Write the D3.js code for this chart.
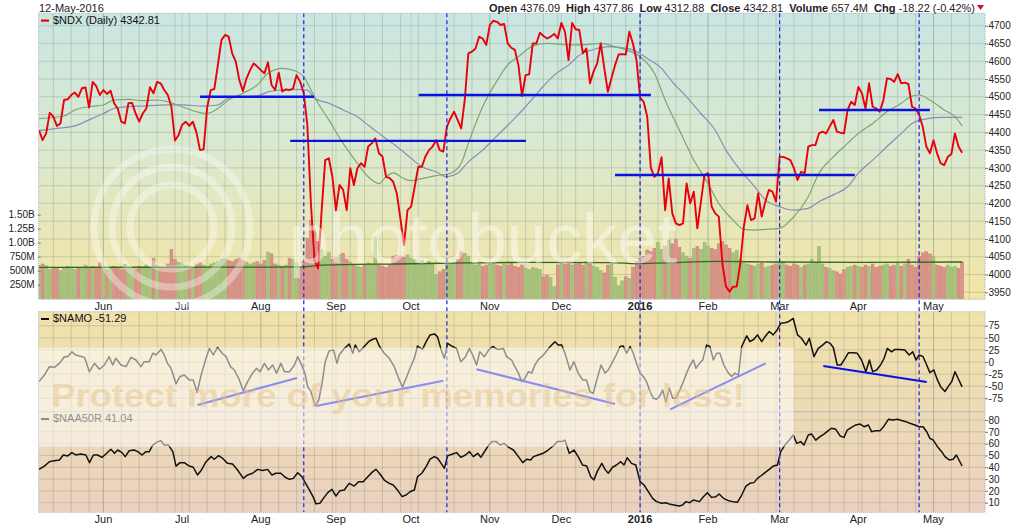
<!DOCTYPE html>
<html><head><meta charset="utf-8">
<script src="https://cdn.jsdelivr.net/npm/d3@7"></script>
<style>
body{margin:0;background:#fff}
svg{display:block}
text{font-family:"Liberation Sans",Arial,sans-serif}
</style></head>
<body><svg id="c" width="1024" height="529"></svg>
<script>
// ---------- DATA ----------
const startDate = "2015-05-05";
const calendarEnd = "2016-05-24";
const holidays = ["2015-05-25","2015-07-03","2015-09-07","2015-11-26","2015-12-25","2016-01-01","2016-01-18","2016-02-15","2016-03-25"];

const closes = [
4406,4378,4397,4455,4444,4418,4425,4491,4493,4505,
4512,4500,4524,4526,4470,4542,4530,4505,4519,4508,
4517,4482,4467,4430,4425,4482,4483,4453,4430,4453,
4467,4527,4510,4542,4538,4519,4505,4472,4377,4392,
4421,4430,4418,4430,4400,4350,4352,4470,4519,4522,
4590,4660,4674,4669,4622,4599,4547,4516,4552,4575,
4594,4585,4575,4566,4597,4533,4519,4568,4515,4521,
4519,4523,4561,4542,4510,4420,4200,4040,4017,4181,
4322,4327,4275,4181,4252,4238,4181,4299,4252,4299,
4313,4303,4360,4369,4383,4341,4332,4275,4271,4261,
4228,4158,4083,4181,4191,4247,4303,4303,4332,4350,
4360,4378,4350,4346,4416,4439,4458,4435,4411,4491,
4622,4627,4636,4669,4664,4646,4702,4714,4711,4702,
4705,4650,4638,4632,4589,4502,4561,4563,4650,4650,
4680,4671,4664,4669,4677,4664,4708,4683,4603,4708,
4690,4688,4622,4636,4538,4571,4594,4650,4580,4514,
4552,4589,4619,4620,4619,4683,4650,4603,4498,4486,
4444,4300,4275,4285,4330,4181,4270,4172,4144,4139,
4144,4256,4200,4233,4130,4205,4280,4285,4191,4172,
4163,4031,3966,3952,3966,3966,4031,4135,4195,4153,
4158,4228,4163,4205,4238,4233,4205,4331,4331,4327,
4322,4299,4266,4289,4285,4360,4364,4364,4397,4402,
4397,4416,4435,4402,4399,4397,4463,4486,4477,4528,
4510,4467,4538,4472,4467,4458,4491,4552,4550,4542,
4564,4538,4540,4536,4472,4467,4449,4416,4360,4341,
4378,4341,4313,4308,4331,4339,4397,4360,4342.81];

// volume in millions
const volumes = [
600,620,590,520,540,560,500,540,580,560,
520,560,540,600,540,580,560,640,550,520,
560,580,540,520,610,560,540,520,580,560,
600,560,720,600,560,540,620,880,700,650,
620,600,580,560,620,640,600,580,620,640,
660,700,720,680,660,700,720,680,650,620,
640,660,620,680,830,800,620,600,580,600,
720,700,640,560,660,1080,1400,1230,1020,870,
760,820,700,740,780,810,700,650,620,580,
560,600,640,620,1100,600,580,560,620,760,
780,760,740,780,720,700,650,680,640,660,
620,420,480,520,660,640,620,700,840,810,
760,640,600,620,580,600,620,640,600,580,
620,600,640,580,560,600,540,520,560,540,
520,390,420,380,215,600,640,620,660,600,
620,640,600,660,620,580,560,500,460,600,
620,380,230,320,390,360,560,660,720,750,
870,840,900,1000,880,940,1050,980,1060,920,
820,760,720,900,930,880,1000,940,900,880,
980,1020,960,900,820,860,700,640,620,600,
580,620,640,560,580,600,620,660,640,600,
580,620,600,560,600,620,700,640,930,620,
560,540,500,480,440,520,560,580,600,580,
560,600,580,620,560,580,600,620,580,600,
640,580,620,700,600,560,760,820,840,800,
760,600,580,560,600,560,580,540,657.4];

// moving averages read as [day index, value]
const maFast = [[0,4439],[7,4446],[10,4463],[14,4472],[18,4477],[21,4491],[25,4493],[29,4489],[33,4491],[36,4486],[40,4472],[44,4458],[47,4453],[50,4467],[53,4491],[57,4510],[61,4533],[64,4566],[68,4580],[71,4575],[74,4556],[76,4519],[78,4482],[81,4435],[85,4369],[89,4313],[92,4275],[95,4256],[97,4275],[99,4286],[102,4270],[104,4264],[107,4270],[111,4278],[115,4285],[118,4313],[120,4369],[124,4472],[128,4545],[131,4590],[134,4613],[138,4643],[142,4650],[148,4646],[152,4646],[157,4650],[161,4641],[164,4632],[168,4613],[172,4566],[175,4491],[179,4406],[183,4322],[187,4256],[190,4200],[194,4153],[197,4127],[200,4125],[203,4127],[207,4130],[211,4163],[215,4219],[218,4285],[222,4331],[226,4369],[229,4397],[233,4425],[237,4458],[241,4482],[244,4502],[246,4505],[249,4491],[253,4463],[256,4444],[258,4418]];
const maSlow = [[0,4405],[5,4411],[10,4418],[14,4435],[18,4453],[21,4467],[25,4472],[29,4474],[36,4477],[40,4477],[46,4474],[50,4477],[53,4496],[57,4500],[61,4502],[64,4514],[68,4519],[72,4521],[75,4519],[77,4496],[81,4482],[85,4463],[89,4444],[92,4420],[96,4390],[100,4360],[104,4327],[107,4303],[111,4289],[114,4275],[117,4285],[120,4317],[124,4350],[128,4390],[133,4440],[136,4472],[140,4519],[144,4561],[148,4589],[151,4617],[155,4633],[159,4641],[162,4639],[166,4632],[170,4608],[174,4580],[177,4542],[181,4500],[185,4453],[189,4406],[192,4350],[196,4294],[200,4247],[203,4210],[207,4191],[211,4181],[215,4186],[218,4205],[222,4224],[226,4247],[229,4285],[233,4322],[237,4360],[241,4397],[244,4425],[247,4436],[252,4442],[258,4442]];
const volAvg = [[0,560],[30,562],[60,565],[74,568],[78,595],[85,610],[100,620],[120,640],[135,648],[160,645],[167,625],[175,640],[190,665],[205,655],[230,650],[258,655]];

const namo = [[0,-40.6],[1.5,-27],[2.9,-9.6],[4.3,-11],[5.7,-2.8],[7.1,11],[8,11],[9.2,21],[10.2,14.5],[11.3,12.4],[12.7,9.6],[14.1,-20],[15.5,-2.8],[16.9,-15],[18.3,-6.2],[19.6,11],[20.6,-6.2],[21.5,7.6],[22.9,-6.2],[24.3,-9.6],[25.7,9.6],[27.1,4.1],[28.5,-9.6],[29.4,0.7],[30.8,0.7],[31.8,18],[32.7,14.5],[34.1,26],[35,14.5],[35.9,-2.8],[36.9,-13],[38.3,-45],[39.4,-30],[40.6,-27],[42,-37],[43.1,-37],[44.2,-63],[45.3,-27],[46.7,7.6],[47.6,28],[48.7,14.5],[49.9,30],[51.2,18],[52.3,11],[53.5,-9.6],[54.6,-16.5],[56,-37],[57.1,-60],[58.3,-40.6],[59.7,-23],[60.8,-13],[61.8,-20],[63,-2.8],[64.1,-16.5],[65.3,-6.2],[66.4,-23],[67.6,-2.8],[68.6,-20],[70,-20],[71.4,-6.2],[72.3,11],[73.2,-2.8],[74.2,-20],[75.1,-51],[76,-61],[77.2,-91],[78.2,-78.5],[79.1,-44],[80,0.7],[81.1,23],[82.3,25],[83.3,-2.8],[83.9,14.5],[85.3,28],[86.7,37],[87.7,18],[88.4,35],[89.5,21],[90.9,32],[92.1,42],[93.3,47],[94.2,49],[95.1,33],[96.5,18],[97.9,7.6],[99.3,-9.6],[100.7,-37],[101.6,-52],[102.8,-30],[103.7,-13],[104.9,7.6],[105.8,33],[107.2,26],[108.2,42],[109.3,56],[110.5,58],[111.4,52],[112.4,25],[113.3,7.6],[114.2,38.6],[115.6,32],[116.7,28],[117.9,0.7],[119.2,11],[120.3,28],[121.2,14.5],[122.3,-6.2],[123.2,21],[124.5,11],[125.7,25],[126.8,32],[128.2,26],[129.8,28],[130.7,11],[132.1,4.1],[133,-9.6],[134,-23],[134.9,-40.6],[135.8,-34],[136.8,-20],[137.7,-23],[138.6,-6.2],[139.6,5.5],[140.5,11],[141.4,18],[142.4,28],[143.3,35],[144.2,42],[145.1,35],[146.1,35],[147,18],[148.4,-16.5],[149.5,0.7],[150.7,-23],[151.9,-37],[153,-37],[154,-61],[154.9,-65],[155.9,-37],[157.1,-6.2],[158.2,-23],[159.1,-16.5],[160.1,-2.8],[161.3,14.5],[162.4,32],[163.3,33],[164.2,18],[165.2,32],[166.1,18],[167,-2.8],[168,-23],[168.9,-30],[169.8,-40.6],[170.8,-61],[171.7,-75],[172.6,-77],[173.4,-71.6],[174.3,-58],[175.2,-82],[176.2,-54],[177.1,-75],[178,-75],[179.1,-58],[180.1,-40.6],[181,-23],[182,-6.2],[182.9,4.1],[183.6,-13],[184.6,-2.8],[185.5,4.1],[186.6,35],[187.5,32],[188.5,4.1],[189.4,18],[190.3,18],[191.4,-6.2],[192.7,-23],[193.6,-30],[194.5,-23],[195.5,-27],[196.4,32],[197.8,54],[198.7,42],[199.8,47],[200.8,56],[202,42],[202.9,52],[204.1,63],[205.2,56],[206.3,66],[207.3,80],[208.5,81],[209.4,83],[210.8,90],[212,56],[213.1,49],[214.4,35],[215.3,49],[216.6,11],[217.8,28],[219,35],[220.1,42],[221.1,38.6],[222,30],[223.1,-6.2],[224.1,-6.2],[225.3,7.6],[226.2,19],[227.6,19],[228.7,18],[229.9,4.1],[231.1,-20],[232.1,4.1],[233,-20],[234.1,-16.5],[235.2,-6.2],[236.2,7.6],[237.1,28],[238.3,21],[239.2,26],[240.6,26],[242,25],[243.2,14.5],[244.2,21],[245.1,4.1],[246,14.5],[247.1,11],[248.1,-6.2],[249,-22],[250.1,-16.5],[251.1,-37],[252,-51],[253.2,-61],[254.1,-51],[255.1,-40.6],[256,-20],[256.9,-34],[258,-51.29]];

const naa50r = [[0,38.2],[1.5,41],[2.9,44.7],[4.3,45.6],[5.7,46.2],[6.8,50.4],[8,49.6],[9.2,52.4],[10.3,50.4],[11.7,51.2],[13.1,50.4],[14.1,43.9],[15.2,50.4],[16.4,50.4],[17.6,48.4],[18.7,51.2],[20.1,55.2],[21.1,51.8],[22,54.6],[23.2,52.4],[24.1,49],[25.2,54],[26.6,54.6],[27.6,53.2],[28.8,50.4],[29.9,53.2],[30.8,53.2],[31.8,58.8],[33.2,61.7],[34.1,62.5],[35,58.8],[36.2,58.8],[37.4,53.2],[38.3,41],[39.4,43.9],[40.6,43.9],[42,41],[43.1,40],[44.3,33.5],[45.3,37.2],[46.7,44.7],[48.1,49],[49,46.8],[50.2,49.8],[51.3,47.6],[52.7,43.3],[54.1,42.7],[55.5,37.7],[57.1,30.6],[58.3,33.5],[59.7,34.9],[61.1,38.2],[62.5,37.2],[63.9,38.2],[65.1,33.5],[66.2,34.9],[67.6,34.9],[68.8,31.5],[70,29.8],[71.1,30.6],[72.3,35.4],[73.5,32],[74.4,26.9],[75.6,20.7],[76.7,14.5],[77.4,9],[78.5,9.5],[79.5,13.7],[80.7,18.5],[81.9,21.3],[83,15.6],[84.1,20.2],[85.3,20.7],[86.7,26.4],[88.1,24.1],[89.3,27.8],[90.6,27.8],[91.9,32],[93.3,36.3],[94.2,38.2],[95.3,34.3],[96.5,29.2],[97.9,26.4],[99,25],[100.2,20.7],[101.5,15.1],[102.6,16.5],[103.7,19.3],[104.9,20.7],[105.8,32],[107,34.9],[108.2,40.5],[109.3,46.8],[110.5,49],[111.4,47.6],[112.4,43.3],[113.3,39.1],[114.2,49.6],[115.6,51.2],[116.7,52.4],[117.9,48.4],[119.2,50.4],[120.3,53.2],[121.4,49],[122.6,51.8],[123.5,48.4],[124.8,54.6],[125.7,58.8],[126.6,61.7],[127.8,61.7],[128.9,58.8],[130,60.2],[131.3,56.8],[132.6,54.6],[134,49],[135.2,43.9],[136.3,46.8],[137.4,46.2],[138.2,49],[139.5,50.4],[140.9,51.8],[142.3,54.6],[143.7,58],[144.9,61.7],[146.1,61.7],[147,63],[148.2,51.8],[149.5,54.6],[150.7,49],[151.9,41.9],[153.1,41],[154.2,32],[155.1,29.2],[156,36.3],[157.3,43.3],[158.2,38.2],[159.1,34.9],[160.3,40],[161.4,41.9],[162.6,44.7],[163.5,41.9],[164.4,48.1],[165.6,43.3],[166.8,41.9],[168,27.8],[169.1,25],[170.3,19.3],[171.5,13.7],[172.6,10.9],[174,9.5],[175.2,10],[176.4,8.6],[177.5,8],[178.9,7.2],[179.9,8],[180.8,10.9],[181.9,10],[182.9,12.3],[184.6,10.9],[185.7,15.1],[186.8,18.5],[188,14.5],[189.2,15.1],[190.1,17.4],[191.3,13.7],[192.7,11.7],[193.9,10.9],[195.2,10.3],[196.4,16.5],[197.6,24.1],[198.7,26.4],[199.8,27],[200.8,30.6],[201.7,32.6],[202.9,35.4],[204.1,38.2],[205.2,41],[206.4,41.9],[207.3,53.2],[208.5,58.8],[209.7,63],[210.8,67.3],[211.8,60.2],[212.9,61.7],[213.8,58.8],[215,67.3],[215.9,68.1],[217.1,63],[218.3,65.9],[219.4,68.1],[220.6,71],[221.5,73],[222.7,72.1],[223.9,66.5],[225,65.3],[225.9,71.5],[227.1,73.8],[228.3,75.8],[229.5,76.6],[230.6,74.3],[231.8,75.8],[232.7,70.1],[233.9,71],[235.1,71],[236.2,75],[237.4,80.6],[238.6,80],[239.9,80.6],[241.1,79.5],[242.3,78.6],[243.4,77.2],[244.8,75.8],[246,74.3],[247.1,74.3],[248.1,70.1],[249,64.5],[249.9,63.1],[251.1,57.4],[252.3,53.2],[253.2,49],[254.4,46.2],[255.5,46.8],[256.4,50.4],[258,41.04]];

// annotations: [startIndex, endIndex, price]
const priceTrend = [[45,76.9,4500],[70.2,136.1,4376],[106.1,171,4505],[161,228,4280],[218,249,4463]];
// [i0, v0, i1, v1]
const namoTrend = [[44.3,-88.8,72.1,-33],[77.4,-91,113,-38.6],[122.3,-15,161,-86.8],[176.4,-97.8,203.1,-2.7],[219.2,-8.3,248.1,-41.3]];
const markerDates = ["2015-08-19","2015-10-15","2016-01-04","2016-03-01","2016-04-26"];

const priceTicks = [3950,4000,4050,4100,4150,4200,4250,4300,4350,4400,4450,4500,4550,4600,4650,4700];
const volTicks = [250,500,750,1000,1250,1500];
const volTickLabels = ["250M","500M","750M","1.00B","1.25B","1.50B"];
const namoTicks = [-75,-50,-25,0,25,50,75];
const naaTicks = [10,20,30,40,50,60,70,80];
const monthNames = ["Jan","Feb","Mar","Apr","May","Jun","Jul","Aug","Sep","Oct","Nov","Dec"];

// ---------- TRADING CALENDAR ----------
function iso(d){return d.toISOString().slice(0,10);}
const days = [];
for (let d = new Date(startDate+"T00:00:00Z"); iso(d) <= calendarEnd; d = new Date(d.getTime()+86400000)) {
  const wd = d.getUTCDay();
  if (wd===0 || wd===6 || holidays.includes(iso(d))) continue;
  days.push(new Date(d));
}
const idxOf = s => days.findIndex(d => iso(d) === s);

// ---------- LAYOUT ----------
const svg = d3.select("#c");
const L = 38.7, R = 985;
const P1 = {t:13.3, b:299.3}, P2 = {t:311.7, b:411.7}, P3 = {t:411.7, b:512.3};

const x = d3.scaleLinear().domain([0,264.4]).range([39,985]);
const yP = d3.scaleLinear().domain([3950,4700]).range([292.3,25.7]);
const yV = d3.scaleLinear().domain([0,1500]).range([298.7,214.7]);
const yN = d3.scaleLinear().domain([-75,75]).range([398.3,325.7]);
const yA = d3.scaleLinear().domain([10,80]).range([502.7,420]);

const defs = svg.append("defs");
const grad = defs.append("linearGradient").attr("id","bg").attr("gradientUnits","userSpaceOnUse")
  .attr("x1",0).attr("y1",13).attr("x2",0).attr("y2",512);
[[0,"#c9e6e2"],[0.28,"#dbe9cf"],[0.56,"#f2e5a6"],[0.6,"#f1e2aa"],[0.8,"#eedab6"],[1,"#ebd1bf"]]
  .forEach(([o,c]) => grad.append("stop").attr("offset",o).attr("stop-color",c));

[P1,P2,P3].forEach(p => {
  svg.append("rect").attr("x",L).attr("y",p.t).attr("width",R-L).attr("height",p.b-p.t).attr("fill","url(#bg)");
});

// clip per panel
[P1,P2,P3].forEach((p,k) => {
  defs.append("clipPath").attr("id","clip"+k).append("rect").attr("x",L).attr("y",p.t).attr("width",R-L).attr("height",p.b-p.t);
});

// vertical week gridlines
const gridColor = "rgba(110,130,110,0.28)";
const weekStarts = [], monthStarts = [];
days.forEach((d,i) => {
  if (i===0) return;
  if (x(i) > R) return;
  if (d.getUTCDay() < days[i-1].getUTCDay() || (d - days[i-1]) > 3*86400000) weekStarts.push(i);
  if (d.getUTCMonth() !== days[i-1].getUTCMonth()) monthStarts.push(i);
});
[P1,P2,P3].forEach(p => {
  svg.append("g").selectAll("line").data(weekStarts).join("line")
    .attr("x1",i=>x(i)).attr("x2",i=>x(i)).attr("y1",p.t).attr("y2",p.b)
    .attr("stroke",gridColor).attr("stroke-width",1);
  svg.append("g").selectAll("line").data(monthStarts).join("line")
    .attr("x1",i=>x(i)).attr("x2",i=>x(i)).attr("y1",p.t).attr("y2",p.b)
    .attr("stroke","rgba(110,130,110,0.22)").attr("stroke-width",1);
});
// horizontal gridlines
function hgrid(ticks, y){
  svg.append("g").selectAll("line").data(ticks).join("line")
    .attr("x1",L).attr("x2",R).attr("y1",d=>y(d)).attr("y2",d=>y(d))
    .attr("stroke",gridColor).attr("stroke-width",1);
}
hgrid(priceTicks, yP); hgrid(namoTicks, yN); hgrid(naaTicks, yA);

// ---------- TOP PANEL ----------
const g1 = svg.append("g").attr("clip-path","url(#clip0)");
// volume bars
g1.append("g").selectAll("rect").data(volumes).join("rect")
  .attr("x",(d,i)=>x(i)-1.4).attr("width",2.8)
  .attr("y",d=>yV(d)).attr("height",d=>yV(0)-yV(d))
  .attr("fill",(d,i)=> (i>0 && closes[i] < closes[i-1]) ? "#d9938b" : "#a7c47e")
  .attr("stroke",(d,i)=> (i>0 && closes[i] < closes[i-1]) ? "#c57a72" : "#8fae66")
  .attr("stroke-width",0.5);
const lineXY = (yy) => d3.line().x(d=>x(d[0])).y(d=>yy(d[1]));
g1.append("path").datum(volAvg).attr("d",lineXY(yV).curve(d3.curveMonotoneX))
  .attr("fill","none").attr("stroke","#2d6b1f").attr("stroke-width",1.3);
g1.append("path").datum(maSlow).attr("d",lineXY(yP).curve(d3.curveMonotoneX))
  .attr("fill","none").attr("stroke","#8a8cb8").attr("stroke-width",1.2);
g1.append("path").datum(maFast).attr("d",lineXY(yP).curve(d3.curveMonotoneX))
  .attr("fill","none").attr("stroke","#79a86c").attr("stroke-width",1.2);
g1.append("path").datum(closes).attr("d",d3.line().x((d,i)=>x(i)).y(d=>yP(d)))
  .attr("fill","none").attr("stroke","#e8000a").attr("stroke-width",1.9).attr("stroke-linejoin","round");
g1.append("g").selectAll("line").data(priceTrend).join("line")
  .attr("x1",d=>x(d[0])).attr("x2",d=>x(d[1])).attr("y1",d=>yP(d[2])).attr("y2",d=>yP(d[2]))
  .attr("stroke","#0a12e0").attr("stroke-width",2.4);

// ---------- NAMO / NAA50R ----------
const g2 = svg.append("g").attr("clip-path","url(#clip1)");
g2.append("path").datum(namo).attr("d",lineXY(yN))
  .attr("fill","none").attr("stroke","#111").attr("stroke-width",1.5).attr("stroke-linejoin","round");
g2.append("g").selectAll("line").data(namoTrend).join("line")
  .attr("x1",d=>x(d[0])).attr("y1",d=>yN(d[1])).attr("x2",d=>x(d[2])).attr("y2",d=>yN(d[3]))
  .attr("stroke","#0a12e0").attr("stroke-width",2);
const g3 = svg.append("g").attr("clip-path","url(#clip2)");
g3.append("path").datum(naa50r).attr("d",lineXY(yA))
  .attr("fill","none").attr("stroke","#111").attr("stroke-width",1.5).attr("stroke-linejoin","round");

// legends
svg.append("rect").attr("x",41).attr("y",19.5).attr("width",8).attr("height",2.2).attr("fill","#e8000a");
svg.append("text").attr("x",53).attr("y",23.5).attr("font-size",11).attr("fill","#111").text("$NDX (Daily) 4342.81");
svg.append("rect").attr("x",41).attr("y",318).attr("width",8).attr("height",2).attr("fill","#111");
svg.append("text").attr("x",53).attr("y",322).attr("font-size",11).attr("fill","#111").text("$NAMO -51.29");
svg.append("rect").attr("x",41).attr("y",418).attr("width",8).attr("height",2).attr("fill","#111");
svg.append("text").attr("x",53).attr("y",422).attr("font-size",11).attr("fill","#111").text("$NAA50R 41.04");

// event marker lines
const markerIdx = markerDates.map(idxOf);
svg.append("g").selectAll("line").data(markerIdx).join("line")
  .attr("x1",i=>x(i)).attr("x2",i=>x(i)).attr("y1",P1.t).attr("y2",P3.b)
  .attr("stroke","#1a22e6").attr("stroke-width",1.2).attr("stroke-dasharray","4,3");

// panel borders
[P1,P2,P3].forEach(p => {
  svg.append("rect").attr("x",L).attr("y",p.t).attr("width",R-L).attr("height",p.b-p.t)
    .attr("fill","none").attr("stroke","#9fb3c0").attr("stroke-width",1).attr("stroke-dasharray","1,1");
});

// ---------- AXES ----------
function rightAxis(scale, ticks, fmt){
  const ax = d3.axisRight(scale).tickValues(ticks).tickSize(3).tickFormat(fmt);
  const g = svg.append("g").attr("transform",`translate(${R},0)`).call(ax);
  g.select(".domain").remove();
  g.selectAll("line").attr("stroke","#777");
  g.selectAll("text").attr("font-size",10).attr("fill","#222").attr("x",3.5).attr("font-family","Liberation Sans, Arial, sans-serif");
}
rightAxis(yP, priceTicks, d=>d);
rightAxis(yN, namoTicks, d=>d);
rightAxis(yA, naaTicks, d=>d);
{
  const ax = d3.axisLeft(yV).tickValues(volTicks).tickSize(3).tickFormat((d,i)=>volTickLabels[i]);
  const g = svg.append("g").attr("transform",`translate(${L+2},0)`).call(ax);
  g.select(".domain").remove();
  g.selectAll("line").attr("stroke","#777");
  g.selectAll("text").attr("font-size",10).attr("fill","#222").attr("font-family","Liberation Sans, Arial, sans-serif");
}
// month labels
const monthLabelIdx = monthStarts.filter(i => x(i) < R - 10);
function monthLabels(yBase){
  svg.append("g").selectAll("text").data(monthLabelIdx).join("text")
    .attr("x",i=>x(i)).attr("y",yBase).attr("text-anchor","middle").attr("font-size",11)
    .attr("font-weight",i=>days[i].getUTCMonth()===0?"bold":"normal").attr("fill","#222")
    .text(i=>days[i].getUTCMonth()===0 ? String(days[i].getUTCFullYear()) : monthNames[days[i].getUTCMonth()]);
}
monthLabels(309.5);
monthLabels(522.5);

// header
svg.append("text").attr("x",39).attr("y",11.5).attr("font-size",11).attr("fill","#222").text("12-May-2016");
const hdr = svg.append("text").attr("x",975).attr("y",12).attr("text-anchor","end").attr("font-size",11).attr("fill","#222");
[["Open ",true],["4376.09  ",false],["High ",true],["4377.86  ",false],["Low ",true],["4312.88  ",false],["Close ",true],["4342.81  ",false],["Volume ",true],["657.4M  ",false],["Chg ",true],["-18.22 (-0.42%)",false]]
  .forEach(([t,b]) => hdr.append("tspan").attr("font-weight",b?"bold":"normal").attr("xml:space","preserve").text(t));
svg.append("path").attr("d","M977,5 L984,5 L980.5,10 Z").attr("fill","#c8102e");

// ---------- WATERMARK ----------
const wm = svg.append("g").attr("pointer-events","none");
[78,60,42].forEach(r => wm.append("circle").attr("cx",172).attr("cy",227).attr("r",r)
  .attr("fill","none").attr("stroke","#fff").attr("stroke-width",7).attr("opacity",0.35));
wm.append("text").attr("x",289).attr("y",263).attr("font-size",70).attr("font-family","Open Sans, sans-serif")
  .attr("textLength",388).attr("lengthAdjust","spacingAndGlyphs")
  .attr("fill","#fff").attr("opacity",0.45).text("photobucket");
wm.append("rect").attr("x",L).attr("y",347.7).attr("width",794-L).attr("height",99).attr("fill","#fff").attr("opacity",0.52);
wm.append("text").attr("x",51).attr("y",407).attr("font-size",34).attr("font-weight","bold")
  .attr("font-family","Open Sans, sans-serif").attr("textLength",694).attr("lengthAdjust","spacingAndGlyphs")
  .attr("fill","#e3c285").attr("opacity",0.45).text("Protect more of your memories for less!");
</script>
</body></html>
